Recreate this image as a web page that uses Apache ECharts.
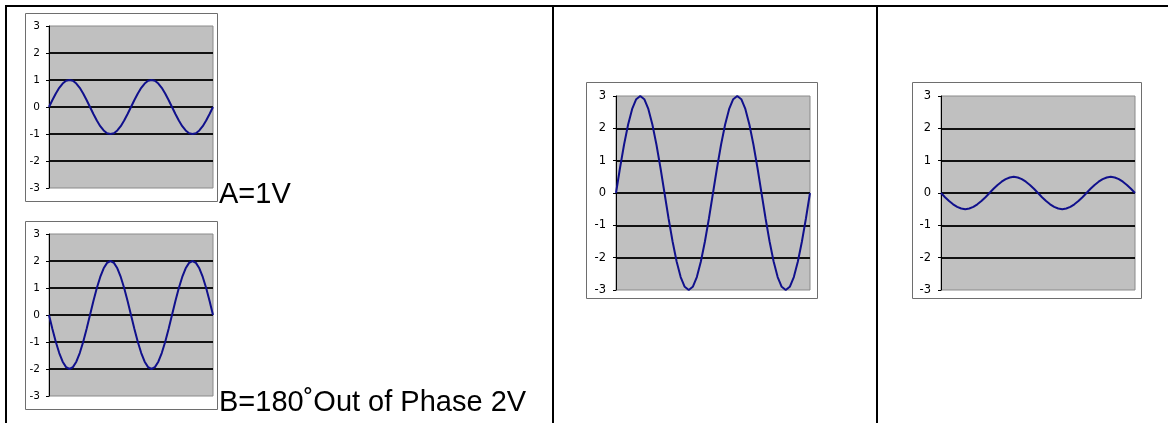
<!DOCTYPE html>
<html>
<head>
<meta charset="utf-8">
<title>Sine wave panels</title>
<script src="https://cdn.jsdelivr.net/npm/echarts@6/dist/echarts.min.js"></script>
<style>
  html, body { margin: 0; padding: 0; background: #ffffff; }
  #chart { width: 1168px; height: 423px; }
</style>
</head>
<body>
<div id="chart"></div>
<script>
// Phase angle in degrees, one sample every 15 degrees across two cycles
const phaseDeg = [
  0, 15, 30, 45, 60, 75, 90, 105, 120, 135, 150, 165, 180, 195, 210, 225, 240, 255, 270, 285, 300, 315, 330, 345,
  360, 375, 390, 405, 420, 435, 450, 465, 480, 495, 510, 525, 540, 555, 570, 585, 600, 615, 630, 645, 660, 675, 690, 705, 720
];

// Wave A, 1 V peak
const waveA = [
  0, 0.26, 0.5, 0.71, 0.87, 0.97, 1, 0.97, 0.87, 0.71, 0.5, 0.26, 0, -0.26, -0.5, -0.71, -0.87, -0.97, -1, -0.97, -0.87, -0.71, -0.5, -0.26,
  0, 0.26, 0.5, 0.71, 0.87, 0.97, 1, 0.97, 0.87, 0.71, 0.5, 0.26, 0, -0.26, -0.5, -0.71, -0.87, -0.97, -1, -0.97, -0.87, -0.71, -0.5, -0.26, 0
];

// Wave B, 2 V peak, 180 degrees out of phase
const waveB = [
  0, -0.52, -1, -1.41, -1.73, -1.93, -2, -1.93, -1.73, -1.41, -1, -0.52, 0, 0.52, 1, 1.41, 1.73, 1.93, 2, 1.93, 1.73, 1.41, 1, 0.52,
  0, -0.52, -1, -1.41, -1.73, -1.93, -2, -1.93, -1.73, -1.41, -1, -0.52, 0, 0.52, 1, 1.41, 1.73, 1.93, 2, 1.93, 1.73, 1.41, 1, 0.52, 0
];

// Middle panel: 3 V peak
const waveC = [
  0, 0.78, 1.5, 2.12, 2.6, 2.9, 3, 2.9, 2.6, 2.12, 1.5, 0.78, 0, -0.78, -1.5, -2.12, -2.6, -2.9, -3, -2.9, -2.6, -2.12, -1.5, -0.78,
  0, 0.78, 1.5, 2.12, 2.6, 2.9, 3, 2.9, 2.6, 2.12, 1.5, 0.78, 0, -0.78, -1.5, -2.12, -2.6, -2.9, -3, -2.9, -2.6, -2.12, -1.5, -0.78, 0
];

// Right panel: 0.5 V peak, inverted
const waveD = [
  0, -0.13, -0.25, -0.35, -0.43, -0.48, -0.5, -0.48, -0.43, -0.35, -0.25, -0.13, 0, 0.13, 0.25, 0.35, 0.43, 0.48, 0.5, 0.48, 0.43, 0.35, 0.25, 0.13,
  0, -0.13, -0.25, -0.35, -0.43, -0.48, -0.5, -0.48, -0.43, -0.35, -0.25, -0.13, 0, 0.13, 0.25, 0.35, 0.43, 0.48, 0.5, 0.48, 0.43, 0.35, 0.25, 0.13, 0
];

// Voltage axis ticks
const voltTicks = [-3, -2, -1, 0, 1, 2, 3];

const captionA = 'A=1V';
const captionB = 'B=180\u02DAOut of Phase 2V';

const panels = [
  { data: waveA, grid: { left: 49, top: 26, width: 164, height: 162 }, box: [25, 13, 192, 188], labelSize: 10.5, labelMargin: 9 },
  { data: waveB, grid: { left: 49, top: 234, width: 164, height: 162 }, box: [25, 221, 192, 188], labelSize: 10.5, labelMargin: 9 },
  { data: waveC, grid: { left: 616, top: 96, width: 194, height: 194 }, box: [586, 82, 231, 216], labelSize: 11.5, labelMargin: 10 },
  { data: waveD, grid: { left: 941, top: 96, width: 194, height: 194 }, box: [912, 82, 229, 216], labelSize: 11.5, labelMargin: 10 }
];

const chart = echarts.init(document.getElementById('chart'), null, { renderer: 'canvas' });

const grids = panels.map(p => Object.assign({
  show: true,
  backgroundColor: '#c0c0c0',
  borderColor: '#8a8a8a',
  borderWidth: 1,
  containLabel: false
}, p.grid));

const xAxes = panels.map((p, i) => ({
  type: 'category',
  gridIndex: i,
  data: phaseDeg,
  boundaryGap: false,
  show: false
}));

const yAxes = panels.map((p, i) => ({
  type: 'value',
  gridIndex: i,
  min: voltTicks[0],
  max: voltTicks[voltTicks.length - 1],
  interval: 1,
  axisLine: { show: true, lineStyle: { color: '#000', width: 1 } },
  axisTick: { show: true, length: 3, lineStyle: { color: '#000', width: 1 } },
  axisLabel: {
    color: '#000',
    fontSize: p.labelSize,
    fontFamily: 'DejaVu Sans',
    margin: p.labelMargin
  },
  splitLine: {
    show: true,
    showMinLine: false,
    showMaxLine: false,
    lineStyle: { color: '#111', width: 2 }
  }
}));

const series = panels.map((p, i) => ({
  type: 'line',
  xAxisIndex: i,
  yAxisIndex: i,
  data: p.data,
  showSymbol: false,
  symbol: 'none',
  smooth: false,
  lineStyle: { color: '#10108c', width: 2 },
  z: 3
}));

// Frames around each small chart
const frames = panels.map(p => ({
  type: 'rect',
  shape: { x: p.box[0] + 0.5, y: p.box[1] + 0.5, width: p.box[2], height: p.box[3] },
  style: { fill: '#ffffff', stroke: '#6e6e6e', lineWidth: 1 },
  z: -10
}));

// Table rules
const rules = [
  { type: 'rect', shape: { x: 5, y: 5, width: 1163, height: 2 }, style: { fill: '#000' } },
  { type: 'rect', shape: { x: 5, y: 5, width: 2, height: 418 }, style: { fill: '#000' } },
  { type: 'rect', shape: { x: 552, y: 5, width: 2, height: 418 }, style: { fill: '#000' } },
  { type: 'rect', shape: { x: 876, y: 5, width: 2, height: 418 }, style: { fill: '#000' } }
];

const captions = [
  { type: 'text', x: 219, y: 180, style: { text: captionA, font: '29px "Liberation Sans", Arial, sans-serif', fill: '#000', verticalAlign: 'top' } },
  { type: 'text', x: 219, y: 388, style: { text: captionB, font: '29px "Liberation Sans", Arial, sans-serif', fill: '#000', verticalAlign: 'top' } }
];

chart.setOption({
  animation: false,
  backgroundColor: '#ffffff',
  grid: grids,
  xAxis: xAxes,
  yAxis: yAxes,
  series: series,
  graphic: { elements: frames.concat(rules, captions) }
});
</script>
</body>
</html>
